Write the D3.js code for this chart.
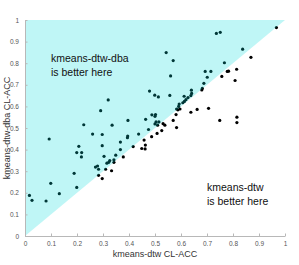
<!DOCTYPE html>
<html>
<head>
<meta charset="utf-8">
<script src="https://d3js.org/d3.v7.min.js"></script>
<style>
  body { margin: 0; background: #fff; }
  svg text { font-family: "Liberation Sans", Arial, sans-serif; }
</style>
</head>
<body>
<div id="chart"></div>
<script>
// kmeans-dtw CL-ACC (x) vs kmeans-dtw-dba CL-ACC (y), one entry per dataset
var dtwAcc = [0.017,0.027,0.081,0.093,0.099,0.132,0.189,0.199,0.199,0.218,0.217,0.207,0.226,0.260,0.271,0.279,0.283,0.283,0.291,0.297,0.297,0.297,0.304,0.310,0.315,0.322,0.326,0.320,0.333,0.335,0.342,0.342,0.349,0.367,0.367,0.378,0.395,0.394,0.396,0.416,0.437,0.449,0.458,0.463,0.462,0.464,0.475,0.479,0.488,0.502,0.500,0.487,0.504,0.515,0.500,0.510,0.531,0.538,0.508,0.526,0.499,0.513,0.543,0.570,0.557,0.560,0.570,0.581,0.583,0.583,0.588,0.596,0.591,0.593,0.607,0.613,0.619,0.612,0.627,0.638,0.641,0.640,0.638,0.662,0.680,0.682,0.688,0.693,0.701,0.706,0.715,0.736,0.751,0.749,0.757,0.767,0.778,0.783,0.808,0.814,0.815,0.815,0.837,0.869,0.967];
var dbaAcc = [0.188,0.165,0.162,0.449,0.244,0.196,0.290,0.225,0.386,0.386,0.366,0.415,0.515,0.472,0.319,0.324,0.309,0.281,0.580,0.470,0.418,0.266,0.369,0.309,0.337,0.341,0.349,0.630,0.302,0.513,0.353,0.341,0.374,0.435,0.400,0.366,0.463,0.455,0.535,0.414,0.472,0.405,0.444,0.421,0.403,0.540,0.493,0.671,0.561,0.562,0.554,0.460,0.528,0.528,0.519,0.513,0.520,0.513,0.475,0.488,0.652,0.644,0.849,0.812,0.651,0.741,0.535,0.562,0.502,0.588,0.584,0.588,0.600,0.611,0.617,0.623,0.631,0.647,0.641,0.650,0.660,0.675,0.573,0.586,0.676,0.683,0.707,0.762,0.735,0.591,0.762,0.938,0.943,0.535,0.739,0.802,0.762,0.763,0.720,0.772,0.550,0.525,0.865,0.827,0.965];
var tickVals = [0,0.1,0.2,0.3,0.4,0.5,0.6,0.7,0.8,0.9,1];
var tickLabels = ["0","0.1","0.2","0.3","0.4","0.5","0.6","0.7","0.8","0.9","1"];

var width = 299, height = 265;
var svg = d3.select("#chart").append("svg")
    .attr("width", width)
    .attr("height", height)

var x = d3.scaleLinear().domain([0, 1]).range([25, 285]);
var y = d3.scaleLinear().domain([0, 1]).range([236, 20]);

var pts = dtwAcc.map(function(d, i){ return [d, dbaAcc[i]] });

// dots first, the tinted region sits on top of them
svg.selectAll("dots")
    .data(pts)
    .enter()
    .append("circle")
    .attr("cx", function(d){ return x(d[0]) })
    .attr("cy", function(d){ return y(d[1]) })
    .attr("r", 1.6)
    .style("fill", "#000")

var tri = [[0,0],[0,1],[1,1]];
svg.append("path")
    .attr("d", d3.line().x(function(d){ return x(d[0]) }).y(function(d){ return y(d[1]) })(tri) + "Z")
    .style("fill", "rgb(0,220,220)")
    .style("fill-opacity", 0.25)

var xAxis = svg.append("g")
    .attr("transform", "translate(0," + y(0) + ")")
    .call(d3.axisBottom(x).tickValues(tickVals).tickFormat(function(d, i){ return tickLabels[i] }).tickSizeInner(-2.5).tickSizeOuter(0).tickPadding(5))
var yAxis = svg.append("g")
    .attr("transform", "translate(" + x(0) + ",0)")
    .call(d3.axisLeft(y).tickValues(tickVals).tickFormat(function(d, i){ return tickLabels[i] }).tickSizeInner(-2.5).tickSizeOuter(0).tickPadding(6))

svg.selectAll(".domain").style("stroke", "#b8b8b8")
svg.selectAll(".tick line").style("stroke", "#b8b8b8")
svg.selectAll(".tick text").style("fill", "#555").style("font-size", "6.5px")
    .style("font-family", "'Liberation Sans', Arial, sans-serif")

svg.append("text")
    .attr("x", 155)
    .attr("y", 257)
    .attr("text-anchor", "middle")
    .style("font-size", "9px")
    .style("fill", "#333")
    .text("kmeans-dtw CL-ACC")

svg.append("text")
    .attr("transform", "translate(10,128) rotate(-90)")
    .attr("text-anchor", "middle")
    .style("font-size", "9px")
    .style("fill", "#333")
    .text("kmeans-dtw-dba CL-ACC")

var notes = [
    {x: 51, y: 62, lines: ["kmeans-dtw-dba", "is better here"]},
    {x: 207, y: 190.5, lines: ["kmeans-dtw", "is better here"]}
];
notes.forEach(function(n){
    n.lines.forEach(function(l, i){
        svg.append("text")
            .attr("x", n.x)
            .attr("y", n.y + i*14)
            .style("font-size", "10.5px")
            .style("fill", "#111")
            .text(l)
    })
})
</script>
</body>
</html>
